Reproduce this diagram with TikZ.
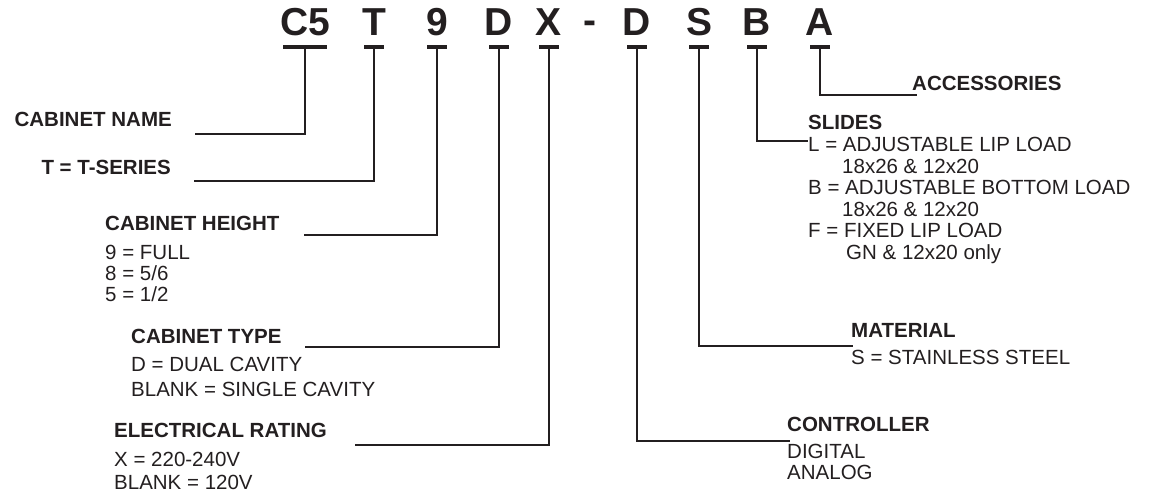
\documentclass[tikz,border=0pt]{standalone}
\usepackage{fontspec}
\setmainfont{Liberation Sans}
\definecolor{ink}{HTML}{231F20}
\begin{document}
\begin{tikzpicture}[x=1pt,y=-1pt,
  code/.style={anchor=base,inner sep=0pt,text=ink,font=\fontsize{39}{39}\selectfont\bfseries},
  head/.style={inner sep=0pt,text=ink,font=\fontsize{20.5}{21}\selectfont\bfseries},
  opts/.style={anchor=north west,inner sep=0pt,align=left,text=ink,font=\fontsize{20.5}{#1}\selectfont},
  opts/.default=21.5,
  bar/.style={draw=ink,line width=3.3pt},
  lead/.style={draw=ink,line width=2pt}]
\useasboundingbox (0,0) rectangle (1149,497);

% model code
\node[code] (c5) at (305,36) {C5};
\node[code] (t) at (374,36) {T};
\node[code] (nine) at (437,36) {9};
\node[code] (d) at (499,36) {D};
\node[code] (x) at (549,36) {X};
\node[code] (dash) at (590,34) {-};
\node[code] (dd) at (637,36) {D};
\node[code] (s) at (699,36) {S};
\node[code] (b) at (757,36) {B};
\node[code] (a) at (820,36) {A};

\foreach \n/\w in {c5/22,t/10,nine/10,d/10,x/10,dd/10,s/10,b/10,a/10}
  \draw[bar] ([xshift=-\w pt,yshift=-11pt]\n.base) -- ([xshift=\w pt,yshift=-11pt]\n.base);

% left side labels
\node[head,anchor=base east] (name) at (172,127) {CABINET NAME};
\node[head,anchor=base east] (series) at (171,175) {T = T-SERIES};
\node[head,anchor=base west] (height) at (105,231) {CABINET HEIGHT};
\node[opts=21] (heightopt) at (105,245) {9 = FULL\\8 = 5/6\\5 = 1/2};
\node[head,anchor=base west] (type) at (131,343) {CABINET TYPE};
\node[opts=25] (typeopt) at (131,357) {D = DUAL CAVITY\\BLANK = SINGLE CAVITY};
\node[head,anchor=base west] (elec) at (114,437) {ELECTRICAL RATING};
\node[opts=23] (elecopt) at (114,452) {X = 220-240V\\BLANK = 120V};

% right side labels
\node[head,anchor=base west] (acc) at (912,91) {ACCESSORIES};
\node[head,anchor=base west] (slides) at (808,130) {SLIDES};
\node[opts] (slidesopt) at (808,137) {L = ADJUSTABLE LIP LOAD\\\hspace*{34pt}18x26 \& 12x20\\B = ADJUSTABLE BOTTOM LOAD\\\hspace*{34pt}18x26 \& 12x20\\F = FIXED LIP LOAD\\\hspace*{38pt}GN \& 12x20 only};
\node[head,anchor=base west] (material) at (851,337) {MATERIAL};
\node[opts] (materialopt) at (851,350) {S = STAINLESS STEEL};
\node[head,anchor=base west] (ctrl) at (787,431) {CONTROLLER};
\node[opts=21] (ctrlopt) at (787,444) {DIGITAL\\ANALOG};

% leader ends
\coordinate (nameend) at (195,134);
\coordinate (seriesend) at (194,181);
\coordinate (heightend) at (304,235);
\coordinate (typeend) at (305,347);
\coordinate (elecend) at (355,445);
\coordinate (accend) at (917,95);
\coordinate (slidesend) at (808,141);
\coordinate (materialend) at (853,346);
\coordinate (ctrlend) at (790,441);

\draw[lead] ([yshift=-11pt]c5.base) |- (nameend);
\draw[lead] ([yshift=-11pt]t.base) |- (seriesend);
\draw[lead] ([yshift=-11pt]nine.base) |- (heightend);
\draw[lead] ([yshift=-11pt]d.base) |- (typeend);
\draw[lead] ([yshift=-11pt]x.base) |- (elecend);
\draw[lead] ([yshift=-11pt]dd.base) |- (ctrlend);
\draw[lead] ([yshift=-11pt]s.base) |- (materialend);
\draw[lead] ([yshift=-11pt]b.base) |- (slidesend);
\draw[lead] ([yshift=-11pt]a.base) |- (accend);
\end{tikzpicture}
\end{document}
